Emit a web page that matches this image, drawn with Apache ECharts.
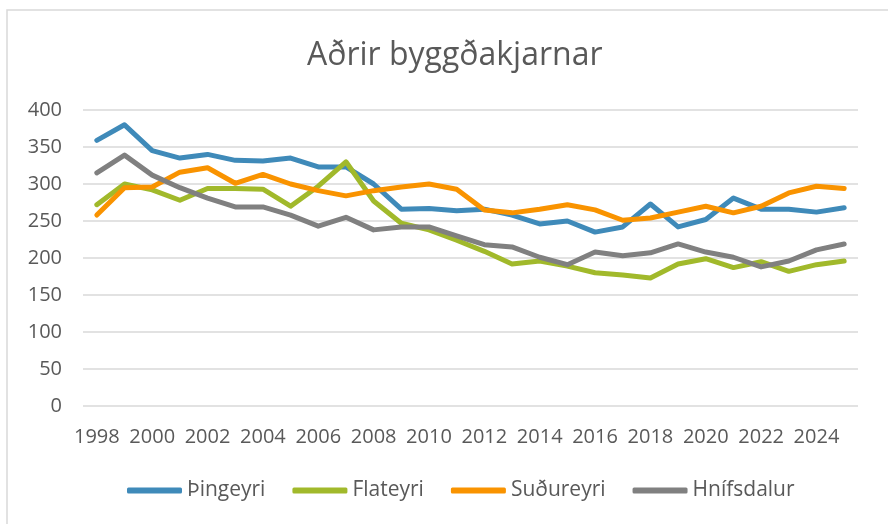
<!DOCTYPE html>
<html>
<head>
<meta charset="utf-8">
<script src="https://cdn.jsdelivr.net/npm/echarts@6/dist/echarts.min.js"></script>
<style>
html,body{margin:0;padding:0;background:#fff;}
#chart{width:888px;height:524px;}
</style>
</head>
<body>
<div id="chart"></div>
<script>
const years = [1998,1999,2000,2001,2002,2003,2004,2005,2006,2007,2008,2009,2010,2011,2012,2013,2014,2015,2016,2017,2018,2019,2020,2021,2022,2023,2024,2025];
const thingeyri = [359,380,345,335,340,332,331,335,323,323,300,266,267,264,266,258,246,250,235,242,273,242,252,281,266,266,262,268];
const flateyri  = [272,300,292,278,294,294,293,270,297,330,277,247,238,224,209,192,196,189,180,177,173,192,199,187,195,182,191,196];
const sudureyri = [258,295,296,316,322,301,313,300,291,284,291,296,300,293,265,261,266,272,265,251,254,262,270,261,270,288,297,294];
const hnifsdalur= [315,339,312,295,281,269,269,258,243,255,238,242,242,230,218,215,201,191,208,203,207,219,208,201,188,196,211,219];
const seriesNames = ['Þingeyri','Flateyri','Suðureyri','Hnífsdalur'];
const seriesData = [thingeyri, flateyri, sudureyri, hnifsdalur];
const colors = ['#3F8AB9','#A1B92B','#F99300','#808080'];

const font = '"Open Sans", sans-serif';
const chart = echarts.init(document.getElementById('chart'));
chart.setOption({
  animation: false,
  color: colors,
  title: {
    text: 'Aðrir byggðakjarnar',
    left: 302,
    top: 35,
    textStyle: {fontFamily: font, fontSize: 32, fontWeight: 'normal', color: '#595959'}
  },
  graphic: [{
    type: 'rect',
    shape: {x: 7, y: 10, width: 900, height: 540},
    style: {fill: 'none', stroke: '#d9d9d9', lineWidth: 1.5}
  }],
  legend: {
    data: seriesNames,
    bottom: 18,
    left: 122,
    itemWidth: 55,
    itemHeight: 6,
    itemGap: 27,
    icon: 'roundRect',
    textStyle: {fontFamily: font, fontSize: 21, color: '#595959'}
  },
  grid: {left: 83, right: 30, top: 110, bottom: 118},
  xAxis: {
    type: 'category',
    data: years,
    boundaryGap: true,
    axisLine: {show: false},
    axisTick: {show: false},
    axisLabel: {interval: 1, margin: 21, fontFamily: font, fontSize: 20, color: '#595959'}
  },
  yAxis: {
    type: 'value',
    min: 0, max: 400, interval: 50,
    axisLine: {show: false},
    axisTick: {show: false},
    splitLine: {lineStyle: {color: '#d9d9d9', width: 1.5}},
    axisLabel: {margin: 21, fontFamily: font, fontSize: 20, color: '#595959'}
  },
  series: seriesNames.map((n, i) => ({
    name: n,
    type: 'line',
    data: seriesData[i],
    symbol: 'none',
    lineStyle: {width: 5, color: colors[i], cap: 'round', join: 'round'},
    itemStyle: {color: colors[i]}
  }))
});
</script>
</body>
</html>
